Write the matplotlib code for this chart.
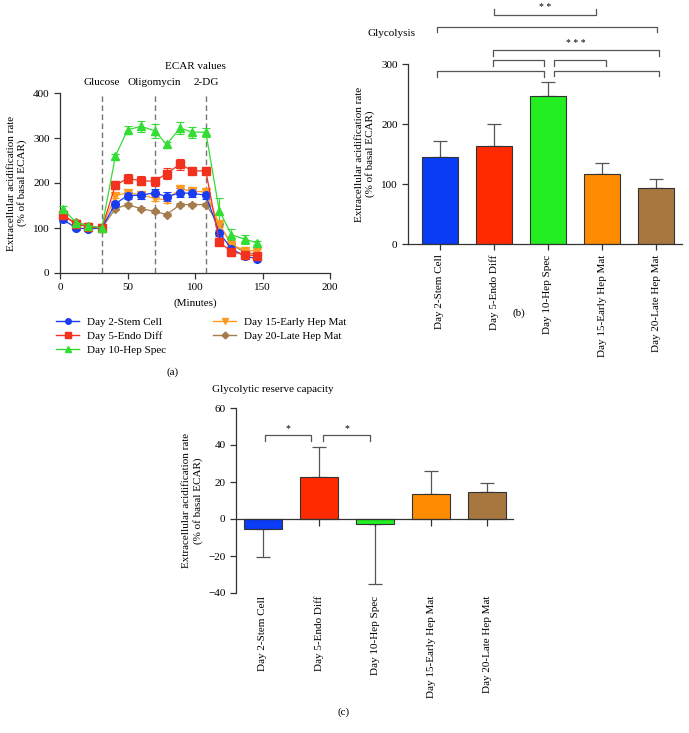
import matplotlib
matplotlib.use("Agg")
import matplotlib.pyplot as plt
import numpy as np
from matplotlib.lines import Line2D

plt.rcParams['font.family'] = ['Liberation Serif', 'DejaVu Serif']
plt.rcParams['font.size'] = 8

# ---------------- data ----------------
groups = ["Day 2-Stem Cell", "Day 5-Endo Diff", "Day 10-Hep Spec",
          "Day 15-Early Hep Mat", "Day 20-Late Hep Mat"]
line_colors = ["#1a3cf0", "#f2321e", "#33dd33", "#ff9a20", "#a57c4c"]
bar_colors = ["#0a3cf5", "#ff2a00", "#22ee22", "#ff8c00", "#a8773f"]
markers = ["o", "s", "^", "v", "D"]

minutes = [2, 12, 21, 31, 41, 50, 60, 70, 79, 89, 98, 108, 118, 127, 137, 146]
stem = [119, 100, 98, 100, 154, 172, 173, 178, 170, 178, 177, 173, 89, 54, 37, 32]
endo = [130, 108, 103, 100, 195, 210, 205, 204, 221, 242, 227, 227, 69, 47, 41, 38]
hepspec = [143, 112, 105, 100, 259, 318, 326, 316, 286, 322, 313, 313, 138, 85, 75, 67]
early = [128, 110, 103, 100, 172, 178, 174, 166, 162, 187, 182, 180, 108, 63, 50, 49]
late = [125, 113, 105, 100, 143, 152, 143, 137, 130, 152, 152, 152, 108, 64, 45, 42]
stem_err = [5, 4, 3, 2, 6, 8, 8, 9, 9, 10, 9, 8, 6, 4, 3, 3]
endo_err = [5, 4, 3, 2, 6, 10, 10, 10, 12, 12, 6, 8, 5, 4, 3, 3]
hepspec_err = [6, 4, 3, 2, 5, 8, 12, 15, 5, 14, 12, 10, 28, 12, 10, 5]
early_err = [5, 4, 3, 2, 6, 6, 6, 7, 6, 6, 6, 6, 5, 4, 4, 4]
late_err = [4, 3, 3, 2, 3, 3, 3, 3, 3, 3, 3, 3, 4, 3, 3, 3]
injections = ["Glucose", "Oligomycin", "2-DG"]
injection_times = [31, 70, 108]

glycolysis = [145, 164, 247, 117, 94]
glycolysis_err = [26, 36, 23, 18, 14]

reserve = [-5.5, 22.5, -2.8, 13.5, 14.6]
reserve_err = [15, 16.4, 32.2, 12.3, 4.9]

W, H = 689, 733
fig = plt.figure(figsize=(W / 100, H / 100), dpi=100)


def px_axes(left, top, right, bottom):
    return fig.add_axes([left / W, 1 - bottom / H, (right - left) / W, (bottom - top) / H])


def style(ax):
    for s in ["top", "right"]:
        ax.spines[s].set_visible(False)
    for s in ["left", "bottom"]:
        ax.spines[s].set_linewidth(0.9)
        ax.spines[s].set_color("#333333")
    ax.tick_params(direction="out", length=4, width=0.9, color="#333333", labelsize=8)


# ---------------- panel (a) ----------------
axa = px_axes(60, 93, 330, 273)
style(axa)
series = [stem, endo, hepspec, early, late]
errs = [stem_err, endo_err, hepspec_err, early_err, late_err]
msizes = [5.5, 5.5, 5.5, 5.5, 4.5]
order = [4, 3, 0, 1, 2]
for i in order:
    axa.errorbar(minutes, series[i], yerr=errs[i], color=line_colors[i],
                 marker=markers[i], markersize=msizes[i],
                 linewidth=0.9, elinewidth=0.8, capsize=3, capthick=0.8,
                 label=groups[i], clip_on=False, zorder=3)
for t in injection_times:
    axa.axvline(t, color="#777777", linestyle=(0, (4, 2.5)), linewidth=1.0, zorder=1)
axa.set_xlim(0, 200)
axa.set_ylim(0, 400)
axa.set_xticks([0, 50, 100, 150, 200])
axa.set_yticks([0, 100, 200, 300, 400])
axa.set_xlabel("(Minutes)", fontsize=8, labelpad=4)
axa.set_ylabel("Extracellular acidification rate\n(% of basal ECAR)", fontsize=8, labelpad=4)
for name, t in zip(injections, injection_times):
    axa.text(t, 1.035, name, transform=axa.get_xaxis_transform(), ha="center",
             va="bottom", fontsize=8)
axa.text(100, 1.125, "ECAR values", transform=axa.get_xaxis_transform(),
         ha="center", va="bottom", fontsize=8)

leg_handles = []
for i in range(5):
    leg_handles.append(Line2D([0], [0], color=line_colors[i], marker=markers[i],
                              markersize=4 if markers[i] != "D" else 3.5, linewidth=1))
fig.legend(leg_handles, groups, ncol=2, loc="upper left",
           bbox_to_anchor=(56 / W, 1 - 317 / H), frameon=False, fontsize=8,
           handlelength=2.1, handletextpad=0.7, columnspacing=4.2,
           labelspacing=0.38, borderpad=0, borderaxespad=0)
fig.text(173 / W, 1 - 372 / H, "(a)", ha="center", va="center", fontsize=8)

# ---------------- panel (b) ----------------
axb = px_axes(408, 64, 682, 244)
style(axb)
xb = np.arange(len(groups))
axb.bar(xb, glycolysis, width=0.67, color=bar_colors, edgecolor="#333333",
        linewidth=0.8, zorder=2)
axb.errorbar(xb, glycolysis, yerr=[np.zeros(5), glycolysis_err], fmt="none",
             ecolor="#555555", elinewidth=0.9, capsize=5, capthick=0.9, zorder=1)
axb.set_xlim(-0.59, 4.48)
axb.set_ylim(0, 300)
axb.set_yticks([0, 100, 200, 300])
axb.set_xticks(xb)
axb.set_xticklabels(groups, rotation=90, fontsize=8)
axb.set_ylabel("Extracellular acidification rate\n(% of basal ECAR)", fontsize=8, labelpad=4)


def bracket(ax, x1, x2, y, drop, text=None, tdy=0):
    ax.plot([x1, x1, x2, x2], [y - drop, y, y, y - drop], color="#555555",
            linewidth=0.9, clip_on=False)
    if text:
        ax.text((x1 + x2) / 2, y + tdy, text, ha="center", va="bottom", fontsize=7)


bracket(axb, -0.05, 1.925, 289, 10)
bracket(axb, 0.98, 1.925, 306, 9)
bracket(axb, 2.11, 3.07, 306, 9)
bracket(axb, 2.11, 4.05, 289, 9)
bracket(axb, 0.98, 4.05, 323, 9, "* * *", 4)
bracket(axb, -0.05, 4.02, 361, 8)
bracket(axb, 1.01, 2.89, 382, -9, "* *", 5)
fig.text(392 / W, 1 - 33 / H, "Glycolysis", ha="center", va="center", fontsize=8)
fig.text(519 / W, 1 - 313 / H, "(b)", ha="center", va="center", fontsize=8)

# ---------------- panel (c) ----------------
axc = px_axes(236, 408, 513, 593)
style(axc)
xc = np.arange(len(groups))
axc.bar(xc, reserve, width=0.67, color=bar_colors, edgecolor="#333333",
        linewidth=0.8, zorder=2)
lo = [e if v < 0 else 0 for v, e in zip(reserve, reserve_err)]
hi = [e if v >= 0 else 0 for v, e in zip(reserve, reserve_err)]
axc.errorbar(xc, reserve, yerr=[lo, hi], fmt="none", ecolor="#555555",
             elinewidth=0.9, capsize=5, capthick=0.9, zorder=1)
axc.set_xlim(-0.48, 4.46)
axc.set_ylim(-40, 60)
axc.set_yticks([-40, -20, 0, 20, 40, 60])
axc.set_yticklabels(["\u221240", "\u221220", "0", "20", "40", "60"])
axc.spines["bottom"].set_position(("data", 0))
axc.set_xticks(xc)
axc.tick_params(axis="x", labelbottom=False, length=5)
for i, g in enumerate(groups):
    axc.text(i, -41.5, g, rotation=90, ha="center", va="top", fontsize=8)
axc.set_ylabel("Extracellular acidification rate\n(% of basal ECAR)", fontsize=8, labelpad=4)
bracket(axc, 0.03, 0.85, 45.6, 3.3, "*", 0.6)
bracket(axc, 1.07, 1.91, 45.6, 3.3, "*", 0.6)
fig.text(273 / W, 1 - 390 / H, "Glycolytic reserve capacity", ha="center", va="center", fontsize=8)
fig.text(344 / W, 1 - 712 / H, "(c)", ha="center", va="center", fontsize=8)

fig.savefig("out.png", dpi=100)
